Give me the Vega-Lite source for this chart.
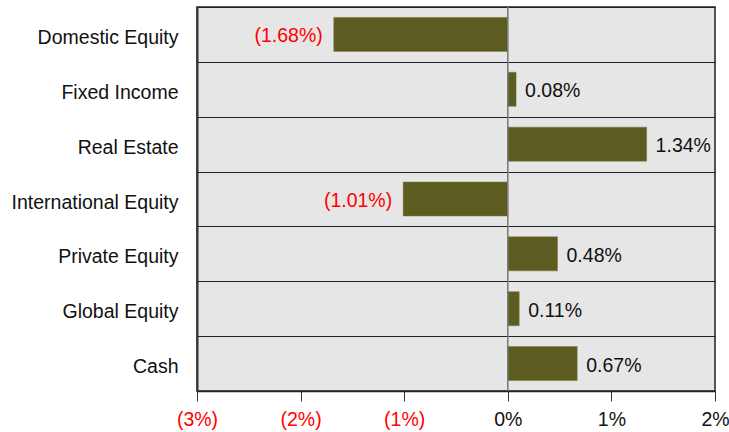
{
  "$schema": "https://vega.github.io/schema/vega-lite/v6.json",
  "width": 518,
  "height": 384,
  "autosize": {"type": "none"},
  "padding": {"left": 197, "top": 7, "right": 14, "bottom": 41},
  "background": "white",
  "config": {
    "font": "Liberation Sans",
    "view": {"fill": "#e6e6e6", "stroke": "#222", "strokeWidth": 1.5}
  },
  "data": {
    "values": [
      {"category": "Domestic Equity", "value": -1.68},
      {"category": "Fixed Income", "value": 0.08},
      {"category": "Real Estate", "value": 1.34},
      {"category": "International Equity", "value": -1.01},
      {"category": "Private Equity", "value": 0.48},
      {"category": "Global Equity", "value": 0.11},
      {"category": "Cash", "value": 0.67}
    ]
  },
  "encoding": {
    "y": {
      "field": "category",
      "type": "nominal",
      "sort": null,
      "scale": {"paddingInner": 0, "paddingOuter": 0},
      "axis": {
        "title": null,
        "ticks": false,
        "labelPadding": 19,
        "labelFontSize": 19.5,
        "labelOffset": 3,
        "labelColor": "#111",
        "grid": true,
        "tickBand": "extent",
        "gridColor": "#222",
        "gridWidth": 1.2,
        "gridOpacity": 1,
        "domainColor": "#333",
        "domainWidth": 2
      }
    }
  },
  "layer": [
    {
      "mark": {"type": "bar", "color": "#5c5b20", "stroke": "#7a7840", "strokeWidth": 0.5, "height": {"band": 0.62}},
      "encoding": {
        "x": {
          "field": "value",
          "type": "quantitative",
          "scale": {"domain": [-3, 2], "nice": false},
          "axis": {
            "title": null,
            "values": [-3, -2, -1, 0, 1, 2],
            "labelExpr": "datum.value < 0 ? '(' + abs(datum.value) + '%)' : datum.value + '%'",
            "labelColor": {"expr": "datum.value < 0 ? '#ff0000' : '#111'"},
            "labelFontSize": 19.5,
            "labelFlush": false,
            "labelOverlap": false,
            "tickSize": 10,
            "tickColor": "#333",
            "labelPadding": 9,
            "grid": false,
            "domainColor": "#222",
            "domainWidth": 1.5
          }
        }
      }
    },
    {
      "mark": {"type": "rule", "color": "#777", "strokeWidth": 1.5},
      "data": {"values": [{"zero": 0}]},
      "encoding": {"x": {"field": "zero", "type": "quantitative"}, "y": null}
    },
    {
      "transform": [
        {"filter": "datum.value < 0"},
        {"calculate": "'(' + format(abs(datum.value), '.2f') + '%)'", "as": "lbl"}
      ],
      "mark": {"type": "text", "fontSize": 19.5, "baseline": "middle", "align": "right", "dx": -11, "dy": 2, "color": "#ff0000"},
      "encoding": {
        "x": {"field": "value", "type": "quantitative"},
        "text": {"field": "lbl"}
      }
    },
    {
      "transform": [
        {"filter": "datum.value >= 0"},
        {"calculate": "format(datum.value, '.2f') + '%'", "as": "lbl"}
      ],
      "mark": {"type": "text", "fontSize": 19.5, "baseline": "middle", "align": "left", "dx": 9, "dy": 2, "color": "#111"},
      "encoding": {
        "x": {"field": "value", "type": "quantitative"},
        "text": {"field": "lbl"}
      }
    }
  ]
}
